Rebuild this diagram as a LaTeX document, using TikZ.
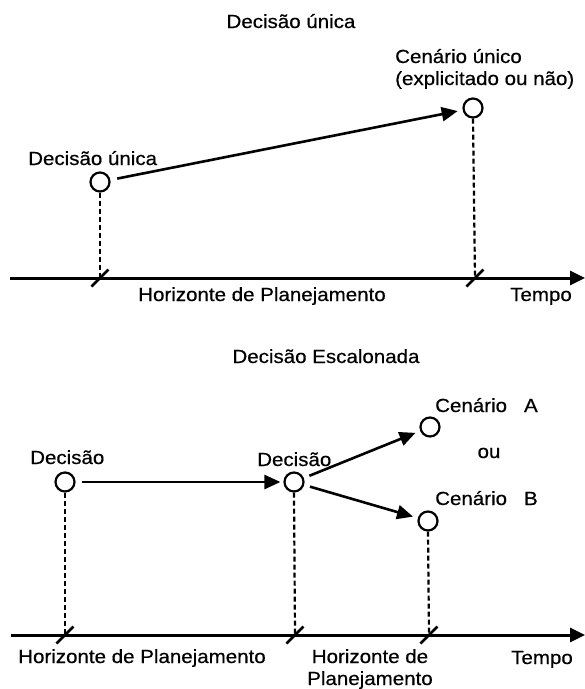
\documentclass[tikz,border=0pt]{standalone}
\usepackage{fontspec}
\setmainfont{Liberation Sans}[FakeStretch=1.08,FakeBold=0.5]
\usetikzlibrary{arrows.meta}
\begin{document}
\begin{tikzpicture}[x=1pt,y=-1pt,
  txt/.style={inner sep=0pt,anchor=base west,font=\fontsize{19}{22}\selectfont},
  dot/.style={circle,draw,line width=2.2pt,minimum size=19pt,inner sep=0pt},
  conn/.style={line width=2.6pt,-{Triangle[length=16pt,width=14pt]},shorten >=5pt,shorten <=7pt},
  dsh/.style={line width=2.2pt,dash pattern=on 5pt off 3pt},
  axis/.style={line width=3pt,-{Triangle[length=15pt,width=14pt]}},
  tick/.style={line width=2.8pt}]
\useasboundingbox (0,0) rectangle (585,689);

% ---------- top ----------
\node[txt,anchor=base] (title1) at (291,28) {Decisão única};
\node[txt] (cu1) at (395,63) {Cenário único};
\node[txt] (cu2) at (395,85) {(explicitado ou não)};
\node[txt] (du) at (28,165) {Decisão única};
\node[dot] (d1) at (100,182) {};
\node[dot] (c1) at (473,108) {};
\coordinate (t1) at (100,278);
\coordinate (t2) at (475,278);
\coordinate (ax0) at (10,278);
\coordinate (ax1) at (585,278);
\draw[conn] (d1) -- (c1);
\draw[dsh] (d1.south) -- (t1);
\draw[dsh] (c1.south) -- (t2);
\draw[axis] (ax0) -- (ax1);
\draw[tick] (t1) +(-8.5,8.5) -- +(8.5,-8.5);
\draw[tick] (t2) +(-8.5,8.5) -- +(8.5,-8.5);
\node[txt,anchor=base] (hp1) at (262,301) {Horizonte de Planejamento};
\node[txt] (tp1) at (510,301) {Tempo};

% ---------- bottom ----------
\node[txt,anchor=base] (title2) at (326,363) {Decisão Escalonada};
\node[txt] (ca) at (435,412) {Cenário\hspace{17pt}A};
\node[txt,anchor=base] (ou) at (489,458) {ou};
\node[txt] (cb) at (435,505) {Cenário\hspace{17pt}B};
\node[txt] (dl) at (30,464) {Decisão};
\node[txt] (dm) at (257,466) {Decisão};
\node[dot] (pl) at (65,482) {};
\node[dot] (pm) at (294,482) {};
\node[dot] (pa) at (430,427) {};
\node[dot] (pb) at (428,521) {};
\coordinate (s1) at (65,635);
\coordinate (s2) at (295,635);
\coordinate (s3) at (429,635);
\coordinate (bx0) at (11,635);
\coordinate (bx1) at (585,635);
\draw[conn,shorten <=6pt,shorten >=3pt] (pl) -- (pm);
\draw[conn,shorten <=6pt] (pm) -- (pa);
\draw[conn,shorten <=6pt] (pm) -- (pb);
\draw[dsh] (pl.south) -- (s1);
\draw[dsh] (pm.south) -- (s2);
\draw[dsh] (pb.south) -- (s3);
\draw[axis] (bx0) -- (bx1);
\draw[tick] (s1) +(-8.5,8.5) -- +(8.5,-8.5);
\draw[tick] (s2) +(-8.5,8.5) -- +(8.5,-8.5);
\draw[tick] (s3) +(-8.5,8.5) -- +(8.5,-8.5);
\node[txt,anchor=base] (hp2) at (142,663) {Horizonte de Planejamento};
\node[txt,anchor=base] (hp3) at (370,663) {Horizonte de};
\node[txt,anchor=base] (hp4) at (370,685) {Planejamento};
\node[txt] (tp2) at (511,664) {Tempo};
\end{tikzpicture}
\end{document}
